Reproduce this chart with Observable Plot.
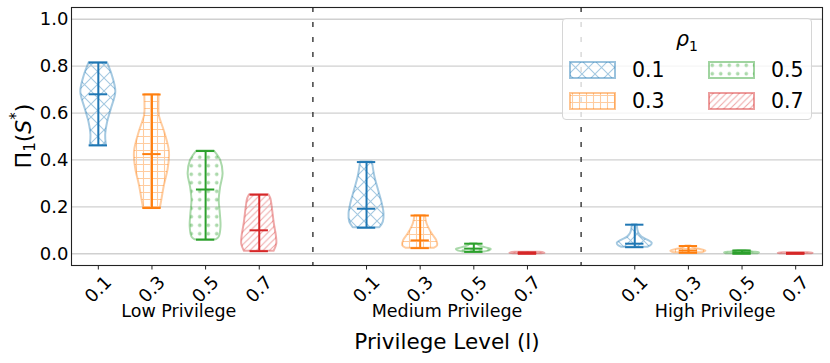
<!DOCTYPE html>
<html><head><meta charset="utf-8">
<script src="https://cdn.jsdelivr.net/npm/d3@7"></script>
<script src="https://cdn.jsdelivr.net/npm/@observablehq/plot@0.6"></script>
<style>
body{margin:0;background:#fff;font-family:"DejaVu Sans",sans-serif;}
#wrap{position:relative;width:830px;height:363px;overflow:hidden;}
#legend{position:absolute;left:562px;top:18px;width:250px;height:102px;border:1px solid #d6d6d6;border-radius:4px;background:rgba(255,255,255,0.8);box-sizing:border-box;font-family:"DejaVu Sans",sans-serif;}
#legend .t{position:absolute;font-size:20.5px;color:#000;line-height:1;}
#legend svg{position:absolute;}
</style></head><body><div id="wrap"><div id="legend"></div></div>
<script>
// ---- data ----
const rhos = ["0.1", "0.3", "0.5", "0.7"];
const groups = ["Low Privilege", "Medium Privilege", "High Privilege"];
const yTicks = [0, 0.2, 0.4, 0.6, 0.8, 1.0];

const maxLow  = [0.815, 0.679, 0.438, 0.252];
const meanLow = [0.680, 0.425, 0.274, 0.100];
const minLow  = [0.462, 0.195, 0.060, 0.011];
const maxMed  = [0.391, 0.163, 0.043, 0.006];
const meanMed = [0.192, 0.057, 0.022, 0.003];
const minMed  = [0.111, 0.024, 0.008, 0.000];
const maxHigh  = [0.124, 0.033, 0.014, 0.004];
const meanHigh = [0.043, 0.014, 0.006, 0.002];
const minHigh  = [0.028, 0.004, 0.000, 0.000];

// violin density profiles: [value, relative density], bottom to top
const shapeLow = [
  [[0.462,0.46],[0.505,0.42],[0.56,0.53],[0.62,0.76],[0.69,1.0],[0.76,0.80],[0.815,0.52]],
  [[0.195,0.48],[0.235,0.58],[0.29,0.71],[0.363,0.93],[0.434,1.0],[0.52,0.72],[0.59,0.42],[0.64,0.40],[0.679,0.41]],
  [[0.06,0.62],[0.071,0.78],[0.114,0.88],[0.171,0.84],[0.227,0.78],[0.284,0.86],[0.341,1.0],[0.398,0.86],[0.438,0.50]],
  [[0.011,0.85],[0.04,1.0],[0.075,0.98],[0.128,0.86],[0.2,0.74],[0.235,0.66],[0.252,0.55]]
];
const shapeMed = [
  [[0.111,0.76],[0.135,0.96],[0.171,1.0],[0.213,0.90],[0.27,0.69],[0.327,0.48],[0.391,0.34]],
  [[0.024,0.82],[0.035,1.0],[0.057,0.94],[0.085,0.68],[0.128,0.39],[0.163,0.30]],
  [[0.008,0.6],[0.012,0.9],[0.018,1.0],[0.025,0.7],[0.035,0.3],[0.043,0.2]],
  [[0.0,0.8],[0.002,1.0],[0.004,0.95],[0.006,0.7]]
];
const shapeHigh = [
  [[0.028,0.75],[0.034,0.92],[0.045,1.0],[0.057,0.76],[0.071,0.41],[0.085,0.25],[0.1,0.18],[0.124,0.14]],
  [[0.004,0.8],[0.011,1.0],[0.018,0.7],[0.025,0.3],[0.033,0.15]],
  [[0.0,0.9],[0.004,1.0],[0.008,0.6],[0.014,0.2]],
  [[0.0,0.9],[0.002,1.0],[0.004,0.7]]
];

// ---- styling ----
const colors = ["#1f77b4", "#ff7f0e", "#2ca02c", "#d62728"];
const light  = ["#a5c9e1", "#ffcc9f", "#abd9ab", "#efa9a9"];
const W = 0.326;   // violin half width at peak density (slot units)
const C = 0.171;   // cap half length

// ---- build tables ----
const maxs = [maxLow, maxMed, maxHigh], means = [meanLow, meanMed, meanHigh], mins = [minLow, minMed, minHigh];
const shapes = [shapeLow, shapeMed, shapeHigh];
const slotOf = (g, k) => g * (rhos.length + 1) + k;
const violinRows = [], statRows = [], tickRows = [];
groups.forEach((gname, g) => rhos.forEach((r, k) => {
  const slot = slotOf(g, k);
  tickRows.push({slot, label: r});
  statRows.push({g, k, slot, min: mins[g][k], mean: means[g][k], max: maxs[g][k]});
  shapes[g][k].forEach(([v, d]) => violinRows.push({g, k, slot, v, d, id: g + "-" + k}));
}));
const separators = groups.slice(1).map((_, i) => slotOf(i + 1, 0) - 1);
const groupCenters = groups.map((name, g) => ({name, x: slotOf(g, (rhos.length - 1) / 2)}));

const marks = [
  Plot.gridY(yTicks, {stroke: "#d0d0d0", strokeOpacity: 1, strokeWidth: 1.3}),
  Plot.ruleX(separators, {stroke: "#333", strokeWidth: 1.4, strokeDasharray: "5,10"}),
];
rhos.forEach((r, k) => {
  marks.push(Plot.areaX(violinRows.filter(d => d.k === k), {
    y: "v", x1: d => d.slot - W * d.d, x2: d => d.slot + W * d.d, z: "id",
    fill: `url(#pat${k})`, stroke: colors[k], strokeOpacity: 0.4, strokeWidth: 2, curve: "catmull-rom"
  }));
});
rhos.forEach((r, k) => {
  const s = statRows.filter(d => d.k === k);
  marks.push(Plot.ruleX(s, {x: "slot", y1: "min", y2: "max", stroke: colors[k], strokeWidth: 2}));
  for (const key of ["min", "mean", "max"]) {
    marks.push(Plot.ruleY(s, {y: key, x1: d => d.slot - C, x2: d => d.slot + C, stroke: colors[k], strokeWidth: 2}));
  }
});
marks.push(
  Plot.axisY(yTicks, {tickSize: 0, tickPadding: 3, fontSize: 18, tickFormat: d3.format(".1f"), label: null}),
  Plot.axisX(tickRows.map(d => d.slot), {tickSize: 4.5, tickFormat: () => "", label: null, stroke: "#222"}),
  Plot.text(tickRows, {x: "slot", text: "label", frameAnchor: "bottom", dy: 24, rotate: -45, textAnchor: "middle", lineAnchor: "middle", fontSize: 18}),
  Plot.text(groupCenters, {x: "x", text: "name", frameAnchor: "bottom", dy: 46, textAnchor: "middle", lineAnchor: "middle", fontSize: 17.5}),
  Plot.text(["Privilege Level (l)"], {frameAnchor: "bottom", dy: 77, textAnchor: "middle", lineAnchor: "middle", fontSize: 21.5}),
  Plot.frame({stroke: "#222", strokeWidth: 1.1})
);

const chart = Plot.plot({
  width: 830, height: 363,
  marginLeft: 71, marginRight: 8, marginTop: 7, marginBottom: 98,
  x: {domain: [-0.5, 13.5], axis: null},
  y: {domain: [-0.05, 1.05], axis: null},
  style: {fontFamily: "DejaVu Sans, sans-serif", fontSize: "18px", color: "#000", background: "#fff"},
  marks
});

// hatch patterns
const svg = d3.select(chart);
const defs = svg.insert("defs", ":first-child");
function pat(id, size) {
  return defs.append("pattern").attr("id", id).attr("patternUnits", "userSpaceOnUse").attr("width", size).attr("height", size);
}
pat("pat0", 13).append("path").attr("d", "M0,0L13,13M0,13L13,0").attr("stroke", light[0]).attr("stroke-width", 1.1).attr("fill", "none");
pat("pat1", 7).append("path").attr("d", "M0,3.5H7M3.5,0V7").attr("stroke", light[1]).attr("stroke-width", 1.1).attr("fill", "none");
pat("pat2", 8.5).append("circle").attr("cx", 4.25).attr("cy", 4.25).attr("r", 1.8).attr("fill", light[2]);
pat("pat3", 6.5).append("path").attr("d", "M-1,7.5L7.5,-1M-1,1L1,-1M5.5,7.5L7.5,5.5").attr("stroke", light[3]).attr("stroke-width", 1.1).attr("fill", "none");

// y axis label (math text)
const yl = svg.append("text").attr("transform", "translate(25,136) rotate(-90)").attr("text-anchor", "middle")
  .attr("dominant-baseline", "middle").attr("font-size", 22).attr("font-family", "DejaVu Sans, sans-serif").attr("fill", "#000");
yl.append("tspan").text("Π");
yl.append("tspan").attr("font-size", 15).attr("dy", 5).text("1");
yl.append("tspan").attr("dy", -5).text("(");
yl.append("tspan").attr("font-style", "italic").text("S");
yl.append("tspan").attr("font-size", 15).attr("dy", -9).text("*");
yl.append("tspan").attr("dy", 9).text(")");

const wrap = document.getElementById("wrap");
wrap.insertBefore(chart, wrap.firstChild);

// legend
const legend = document.getElementById("legend");
const title = document.createElement("div");
title.className = "t";
title.style.cssText = "left:0;width:248px;text-align:center;top:10px;";
title.innerHTML = '<i>ρ</i><sub style="font-size:14px">1</sub>';
legend.appendChild(title);
rhos.forEach((r, k) => {
  const col = Math.floor(k / 2), row = k % 2;
  const left = 6 + col * 139, top = 42 + row * 31;
  const ns = "http://www.w3.org/2000/svg";
  const s = document.createElementNS(ns, "svg");
  s.setAttribute("width", 47); s.setAttribute("height", 18);
  s.style.left = left + "px"; s.style.top = top + "px";
  const rect = document.createElementNS(ns, "rect");
  rect.setAttribute("x", 1); rect.setAttribute("y", 1); rect.setAttribute("width", 45); rect.setAttribute("height", 16);
  rect.setAttribute("fill", `url(#pat${k})`); rect.setAttribute("stroke", colors[k]); rect.setAttribute("stroke-opacity", 0.45); rect.setAttribute("stroke-width", 2);
  s.appendChild(rect);
  legend.appendChild(s);
  const t = document.createElement("div");
  t.className = "t";
  t.style.left = (left + 63) + "px"; t.style.top = (top - 1) + "px";
  t.textContent = r;
  legend.appendChild(t);
});
</script></body></html>
